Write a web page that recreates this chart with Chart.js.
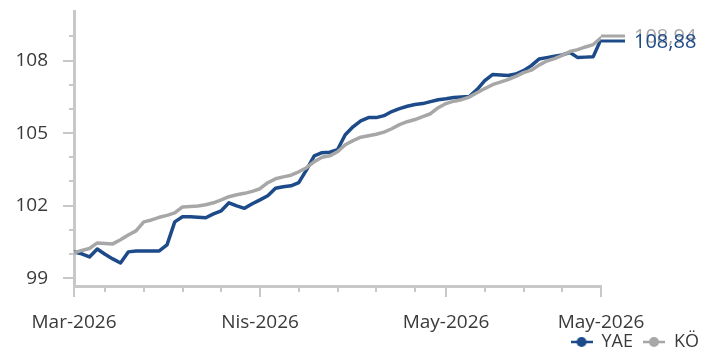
<!DOCTYPE html>
<html>
<head>
<meta charset="utf-8">
<script src="https://cdn.jsdelivr.net/npm/chart.js@4.4.1/dist/chart.umd.min.js"></script>
<style>
  html, body { margin: 0; padding: 0; background: #ffffff; }
  canvas { display: block; }
</style>
</head>
<body>
<canvas id="chart" width="709" height="352"></canvas>
<script>
// Series names
const seriesNames = ['YAE', 'KÖ'];

// Daily index values (trading days)
const yaeValues = [
  100.09, 100.01, 99.88, 100.21, 99.99, 99.80, 99.63, 100.09, 100.13, 100.13,
  100.13, 100.13, 100.38, 101.33, 101.54, 101.54, 101.52, 101.50, 101.66, 101.79,
  102.12, 101.99, 101.89, 102.08, 102.24, 102.41, 102.72, 102.78, 102.82, 102.95,
  103.48, 104.06, 104.19, 104.21, 104.31, 104.93, 105.26, 105.51, 105.64, 105.64,
  105.72, 105.89, 106.01, 106.11, 106.18, 106.22, 106.30, 106.38, 106.42, 106.47,
  106.49, 106.51, 106.80, 107.17, 107.42, 107.40, 107.38, 107.44, 107.58, 107.79,
  108.06, 108.12, 108.18, 108.23, 108.33, 108.12, 108.14, 108.16, 108.88
];
const koValues = [
  100.05, 100.15, 100.23, 100.46, 100.44, 100.42, 100.59, 100.79, 100.96, 101.33,
  101.41, 101.52, 101.60, 101.70, 101.95, 101.97, 101.99, 102.04, 102.12, 102.24,
  102.37, 102.45, 102.51, 102.59, 102.70, 102.95, 103.11, 103.19, 103.26, 103.40,
  103.57, 103.82, 104.00, 104.06, 104.23, 104.52, 104.69, 104.83, 104.89, 104.95,
  105.04, 105.18, 105.35, 105.47, 105.56, 105.68, 105.80, 106.05, 106.22, 106.32,
  106.38, 106.49, 106.67, 106.84, 107.00, 107.11, 107.21, 107.34, 107.50, 107.60,
  107.81, 107.98, 108.08, 108.21, 108.37, 108.45, 108.56, 108.66, 108.94
];
const dayIndex = yaeValues.map((_, i) => i);

// Axis ticks
const xTickLabels = ['Mar-2026', 'Nis-2026', 'May-2026', 'May-2026'];
const xLabelDays = [0, 24, 48, 68];
const xMinorDays = [0, 4, 9, 14, 19, 24, 29, 34, 39, 44, 48, 53, 58, 63, 68];
const yLabelValues = [99, 102, 105, 108];
const yMinorValues = [99, 100, 101, 102, 103, 104, 105, 106, 107, 108, 109];

const BLUE = '#1d4a89';
const GRAY = '#a7a7a7';
const AXIS = '#c8c8c8';
const TEXT = '#3a3a3a';
const FONT = "'Open Sans', 'Noto Sans', sans-serif";

// Legend marker: short line with a dot in the middle
function lineDotMarker(color) {
  const c = document.createElement('canvas');
  c.width = 22; c.height = 12;
  const g = c.getContext('2d');
  g.strokeStyle = color; g.lineWidth = 2.5;
  g.beginPath(); g.moveTo(0, 6); g.lineTo(22, 6); g.stroke();
  g.fillStyle = color;
  g.beginPath(); g.arc(11, 6, 5, 0, Math.PI * 2); g.fill();
  return c;
}

// Major / minor tick marks on both axes
const axisTicks = {
  id: 'axisTicks',
  afterDraw(chart) {
    const { ctx, chartArea: a, scales: { x, y } } = chart;
    ctx.save();
    ctx.strokeStyle = AXIS;
    ctx.lineWidth = 2;
    ctx.beginPath();
    yMinorValues.forEach(v => {
      const py = Math.round(y.getPixelForValue(v));
      const len = yLabelValues.includes(v) ? 11 : 5;
      ctx.moveTo(a.left - len, py); ctx.lineTo(a.left, py);
    });
    xMinorDays.forEach(d => {
      const px = Math.round(x.getPixelForValue(d));
      const len = xLabelDays.includes(d) ? 11 : 6;
      ctx.moveTo(px, a.bottom); ctx.lineTo(px, a.bottom + len);
    });
    ctx.stroke();
    ctx.restore();
  }
};

// Last-value labels at the right end of each line
const endLabels = {
  id: 'endLabels',
  afterDatasetsDraw(chart) {
    const { ctx, scales: { x, y } } = chart;
    const items = chart.data.datasets.map(ds => {
      const last = ds.data.length - 1;
      const py = y.getPixelForValue(ds.data[last]);
      return { color: ds.borderColor, value: ds.data[last], px: x.getPixelForValue(last), py, ly: py };
    });
    // keep the two labels a little apart
    const [a, b] = items;
    const gap = 5;
    if (Math.abs(a.py - b.py) < gap) {
      const mid = (a.py + b.py) / 2;
      const upper = a.value >= b.value ? a : b;
      const lower = upper === a ? b : a;
      upper.ly = mid - gap / 2;
      lower.ly = mid + gap / 2;
    }
    ctx.save();
    ctx.font = `20px ${FONT}`;
    ctx.textBaseline = 'middle';
    ctx.textAlign = 'left';
    ctx.lineWidth = 3;
    // grey first so the blue label sits on top
    [items[1], items[0]].forEach(it => {
      ctx.strokeStyle = it.color;
      ctx.beginPath();
      ctx.moveTo(it.px, it.ly);
      ctx.lineTo(it.px + 24, it.ly);
      ctx.stroke();
      ctx.fillStyle = it.color;
      ctx.fillText(it.value.toFixed(2).replace('.', ','), it.px + 33, it.ly + 1);
    });
    ctx.restore();
  }
};

// Legend row sits on the bottom edge; x labels may use the space above it
const bottomRow = {
  id: 'bottomRow',
  afterLayout(chart) {
    const l = chart.legend;
    if (l) { l.top += 9; l.bottom += 9; }
    chart.scales.x.bottom = chart.height;
  }
};

new Chart(document.getElementById('chart'), {
  type: 'line',
  data: {
    labels: dayIndex,
    datasets: [
      {
        label: seriesNames[0], data: yaeValues, borderColor: BLUE, backgroundColor: BLUE,
        borderWidth: 3.5, pointRadius: 0, tension: 0, borderJoinStyle: 'round', borderCapStyle: 'round', order: 2
      },
      {
        label: seriesNames[1], data: koValues, borderColor: GRAY, backgroundColor: GRAY,
        borderWidth: 3.5, pointRadius: 0, tension: 0, borderJoinStyle: 'round', borderCapStyle: 'round', order: 1
      }
    ]
  },
  options: {
    responsive: false,
    animation: false,
    events: [],
    layout: { padding: { top: 11, left: 0, right: 0, bottom: 0 } },
    plugins: {
      tooltip: { enabled: false },
      legend: {
        position: 'bottom',
        align: 'end',
        labels: {
          usePointStyle: true,
          pointStyleWidth: 22,
          boxHeight: 12,
          padding: 10,
          color: TEXT,
          font: { family: FONT, size: 18 },
          generateLabels(chart) {
            return chart.data.datasets.map((ds, i) => ({
              text: ds.label,
              fillStyle: ds.borderColor,
              strokeStyle: ds.borderColor,
              fontColor: TEXT,
              lineWidth: 0,
              pointStyle: lineDotMarker(ds.borderColor),
              hidden: !chart.isDatasetVisible(i),
              datasetIndex: i
            }));
          }
        }
      }
    },
    scales: {
      x: {
        type: 'linear',
        min: 0,
        max: 68,
        afterBuildTicks(s) { s.ticks = xLabelDays.map(v => ({ value: v })); },
        afterFit(s) { s.height = 352 - 286 - (s.chart.legend ? s.chart.legend.height : 0); },
        ticks: {
          autoSkip: false, maxRotation: 0, minRotation: 0, padding: 0,
          color: TEXT, font: { family: FONT, size: 19 },
          callback: (v, i) => xTickLabels[i]
        },
        grid: { drawOnChartArea: false, drawTicks: true, tickLength: 25, tickColor: 'rgba(0,0,0,0)' },
        border: { color: AXIS, width: 3 }
      },
      y: {
        min: 98.68,
        max: 110.03,
        afterBuildTicks(s) { s.ticks = yLabelValues.map(v => ({ value: v })); },
        afterFit(s) { s.width = 74; },
        ticks: {
          padding: 0, color: TEXT, font: { family: FONT, size: 19 },
          callback: v => String(v)
        },
        grid: { drawOnChartArea: false, drawTicks: true, tickLength: 26, tickColor: 'rgba(0,0,0,0)' },
        border: { color: AXIS, width: 3 }
      },
      labelSpace: {
        position: 'right',
        display: true,
        afterFit(s) { s.width = 108; },
        ticks: { display: false },
        grid: { display: false },
        border: { display: false }
      }
    }
  },
  plugins: [axisTicks, endLabels, bottomRow]
});
</script>
</body>
</html>
